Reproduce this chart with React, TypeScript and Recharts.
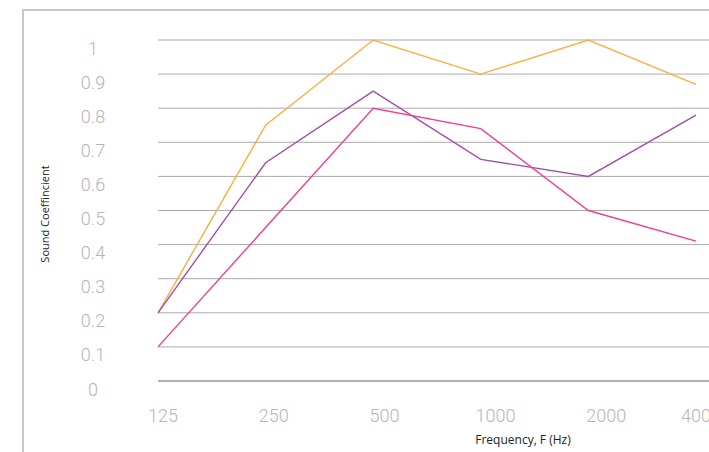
import React from 'react';
import { LineChart, Line, XAxis, YAxis, CartesianGrid } from 'recharts';

const frequencies = ['125', '250', '500', '1000', '2000', '4000'];
const seriesOrange = [0.2, 0.75, 1.0, 0.9, 1.0, 0.87];
const seriesPurple = [0.2, 0.64, 0.85, 0.65, 0.6, 0.78];
const seriesPink = [0.1, 0.45, 0.8, 0.74, 0.5, 0.41];
const yTicks = [0, 0.1, 0.2, 0.3, 0.4, 0.5, 0.6, 0.7, 0.8, 0.9, 1];

const data = frequencies.map((f, i) => ({
  freq: f,
  orange: seriesOrange[i],
  purple: seriesPurple[i],
  pink: seriesPink[i],
}));

const tickFont = 'Roboto, "Noto Sans", sans-serif';
const titleFont = '"Open Sans", "Noto Sans", sans-serif';

const YTick = (props: any) => {
  const { x, y, payload } = props;
  return (
    <text x={x} y={y + 8} textAnchor="middle" dominantBaseline="central" fill="#b5b5b5" fontSize={18} fontWeight={300} fontFamily={tickFont}>
      {String(payload.value)}
    </text>
  );
};

const XTick = (props: any) => {
  const { x, y, payload, index } = props;
  const isLast = index === frequencies.length - 1;
  return (
    <text
      x={isLast ? x + 4 : x}
      y={y}
      textAnchor={isLast ? 'end' : 'middle'}
      dominantBaseline="central"
      fill="#b5b5b5"
      fontSize={18}
      fontWeight={300}
      fontFamily={tickFont}
    >
      {payload.value}
    </text>
  );
};

export default function App() {
  return (
    <div style={{ position: 'fixed', left: 0, top: 0, width: 709, height: 452, overflow: 'hidden', background: '#fff' }}>
      <div
        style={{
          position: 'absolute',
          left: 22,
          top: 9,
          width: 1200,
          height: 1200,
          borderTop: '2px solid #c8c8c8',
          borderLeft: '2px solid #c8c8c8',
          boxSizing: 'border-box',
        }}
      />
      <div style={{ position: 'absolute', left: 0, top: 0 }}>
        <LineChart width={900} height={452} data={data} margin={{ top: 40, right: 12, bottom: 41, left: 58 }}>
          <CartesianGrid xAxisId="data" vertical={false} stroke="#ababab" strokeWidth={1} />
          <XAxis xAxisId="data" dataKey="freq" orientation="top" height={0} hide padding={{ left: 0, right: 192 }} />
          <XAxis
            xAxisId="ticks"
            dataKey="freq"
            padding={{ left: 5, right: 171 }}
            tickLine={false}
            axisLine={{ stroke: '#8a8a8a', strokeWidth: 1 }}
            tickMargin={28}
            tick={<XTick />}
            interval={0}
            label={{
              content: () => (
                <text x={523} y={439} textAnchor="middle" dominantBaseline="central" fontSize={12} fill="#222" fontFamily={titleFont}>
                  Frequency, F (Hz)
                </text>
              ),
            }}
          />
          <YAxis
            width={100}
            domain={[0, 1]}
            ticks={yTicks}
            tickLine={false}
            axisLine={false}
            tickMargin={59}
            tick={<YTick />}
            interval={0}
            label={{
              content: () => (
                <text
                  x={44}
                  y={214}
                  textAnchor="middle"
                  dominantBaseline="central"
                  fontSize={11}
                  fill="#222"
                  fontFamily={titleFont}
                  transform="rotate(-90 44 214)"
                >
                  Sound Coeffincient
                </text>
              ),
            }}
          />
          <Line xAxisId="data" type="linear" dataKey="orange" stroke="#fbb040" strokeWidth={1.4} dot={false} isAnimationActive={false} />
          <Line xAxisId="data" type="linear" dataKey="purple" stroke="#a150a8" strokeWidth={1.4} dot={false} isAnimationActive={false} />
          <Line xAxisId="data" type="linear" dataKey="pink" stroke="#ee3f96" strokeWidth={1.4} dot={false} isAnimationActive={false} />
        </LineChart>
      </div>
    </div>
  );
}
